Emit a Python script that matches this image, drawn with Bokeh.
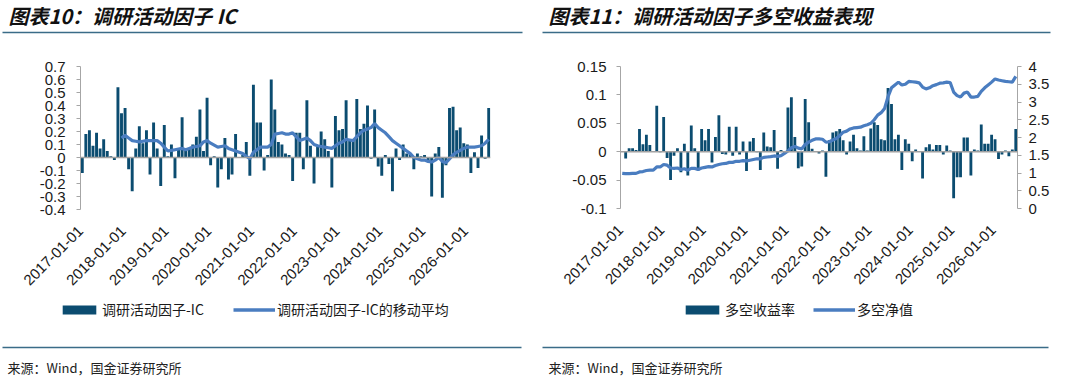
import math
from bokeh.plotting import figure
from bokeh.models import (ColumnDataSource, FixedTicker, LinearAxis, Range1d, Span,
                          Label, Legend, LegendItem)
from bokeh.layouts import row, column
from bokeh.embed import file_html
from bokeh.resources import INLINE

# ---------------- data ----------------
year_ticks = [0, 12, 24, 36, 48, 60, 72, 84, 96, 108]
year_labels = ["2017-01-01", "2018-01-01", "2019-01-01", "2020-01-01", "2021-01-01",
               "2022-01-01", "2023-01-01", "2024-01-01", "2025-01-01", "2026-01-01"]

# monthly IC of the survey-activity factor, 2017-01 .. 2026-07
ic = [-0.12, 0.18, 0.21, 0.09, 0.19, 0.07, 0.14, 0.05, 0.01, -0.02, 0.54, 0.34,
      0.38, -0.09, -0.26, 0.07, 0.24, 0.11, 0.21, -0.13, 0.27, 0.07, -0.22, 0.25,
      0.01, 0.10, -0.16, 0.06, 0.31, 0.05, 0.07, 0.10, 0.16, 0.37, 0.05, 0.46,
      -0.06, 0.01, -0.23, -0.09, 0.15, -0.17, -0.13, 0.18, 0.00, 0.02, 0.12, -0.14,
      0.56, 0.27, 0.27, -0.10, 0.02, 0.60, 0.37, 0.12, 0.10, 0.03, 0.02, -0.18,
      0.19, 0.19, -0.09, 0.44, 0.09, -0.20, 0.08, 0.20, 0.14, 0.05, -0.23, 0.32,
      0.21, 0.22, 0.44, 0.14, 0.13, 0.45, 0.22, 0.26, 0.40, -0.01, 0.37, -0.07,
      -0.14, 0.02, -0.05, -0.26, 0.07, -0.02, 0.10, 0.03, 0.03, -0.09, 0.03, 0.01,
      0.02, -0.03, -0.30, 0.03, 0.08, -0.31, -0.06, 0.38, 0.39, 0.21, 0.23, 0.11,
      0.10, -0.12, 0.04, -0.08, 0.17, -0.01, 0.38]

# moving average of IC, from 2017-12 onwards
ic_ma = [0.15, 0.17, 0.15, 0.13, 0.125, 0.12, 0.125, 0.13, 0.13, 0.13, 0.13, 0.11, 0.08,
         0.05, 0.055, 0.06, 0.065, 0.07, 0.06, 0.07, 0.08, 0.085, 0.09, 0.12, 0.13,
         0.11, 0.095, 0.08, 0.085, 0.09, 0.07, 0.06, 0.05, 0.04, 0.03, 0.01, -0.01,
         0.04, 0.06, 0.08, 0.08, 0.08, 0.10, 0.18, 0.185, 0.19, 0.18, 0.18, 0.19,
         0.16, 0.13, 0.14, 0.15, 0.13, 0.10, 0.09, 0.085, 0.08, 0.075, 0.07, 0.09,
         0.11, 0.12, 0.14, 0.135, 0.13, 0.16, 0.19, 0.21, 0.22, 0.23, 0.26, 0.23,
         0.21, 0.19, 0.16, 0.13, 0.11, 0.09, 0.07, 0.05, 0.03, 0.0, -0.01, -0.02,
         -0.02, -0.03, -0.035, -0.02, 0.0, -0.03, -0.04, -0.01, 0.02, 0.04, 0.055, 0.07,
         0.08, 0.08, 0.08, 0.085, 0.09, 0.11, 0.14]
ma_start = 11

# long-short monthly return
ls_ret = [0.0, -0.012, 0.006, 0.006, 0.003, 0.04, 0.013, 0.03, 0.012, 0.0, 0.081, -0.001,
          0.061, -0.011, -0.05, -0.007, 0.006, -0.036, 0.014, -0.042, 0.046, 0.006, -0.033, 0.04,
          0.02, 0.04, -0.019, 0.026, 0.064, -0.004, -0.005, 0.044, -0.007, 0.044, -0.005, 0.018,
          -0.034, 0.018, 0.024, -0.001, -0.032, 0.034, 0.009, 0.008, 0.038, -0.03, 0.003, -0.004,
          0.078, 0.096, 0.026, -0.029, -0.026, 0.093, 0.052, 0.005, 0.0, -0.003, 0.002, -0.044,
          0.02, 0.034, 0.036, 0.04, 0.02, -0.005, 0.018, 0.03, 0.006, 0.002, 0.027, 0.002,
          0.041, 0.052, 0.047, 0.022, 0.02, 0.112, 0.084, 0.022, 0.03, -0.032, 0.022, 0.014,
          -0.017, 0.004, 0.001, -0.047, 0.008, 0.013, 0.004, 0.012, 0.012, -0.005, 0.011, 0.002,
          -0.082, -0.045, -0.045, 0.025, 0.025, -0.042, 0.004, 0.002, 0.048, 0.014, 0.014, 0.03,
          0.022, -0.013, -0.005, 0.002, -0.008, 0.004, 0.04]

# long-short net value
ls_nav = [0.99, 0.98, 0.985, 0.99, 0.99, 1.03, 1.04, 1.07, 1.08, 1.08, 1.17, 1.17,
          1.24, 1.22, 1.14, 1.13, 1.14, 1.10, 1.12, 1.08, 1.13, 1.13, 1.10, 1.14,
          1.16, 1.18, 1.17, 1.21, 1.24, 1.26, 1.27, 1.30, 1.30, 1.33, 1.33, 1.35,
          1.34, 1.36, 1.38, 1.40, 1.40, 1.44, 1.45, 1.46, 1.48, 1.47, 1.49, 1.55,
          1.62, 1.71, 1.75, 1.70, 1.68, 1.80, 1.87, 1.92, 1.96, 1.96, 1.95, 1.87,
          1.88, 1.93, 1.97, 2.05, 2.15, 2.18, 2.24, 2.27, 2.28, 2.29, 2.33, 2.36,
          2.40, 2.50, 2.63, 2.70, 2.82, 3.15, 3.40, 3.48, 3.56, 3.48, 3.50, 3.58,
          3.57, 3.56, 3.54, 3.42, 3.37, 3.40, 3.46, 3.49, 3.53, 3.54, 3.56, 3.55,
          3.28, 3.18, 3.14, 3.25, 3.28, 3.14, 3.14, 3.16, 3.30, 3.40, 3.48, 3.56,
          3.65, 3.62, 3.60, 3.58, 3.57, 3.56, 3.72]

ic_ticks = [-0.4, -0.3, -0.2, -0.1, 0, 0.1, 0.2, 0.3, 0.4, 0.5, 0.6, 0.7]
ic_tick_labels = ["-0.4", "-0.3", "-0.2", "-0.1", "0", "0.1", "0.2", "0.3", "0.4", "0.5", "0.6", "0.7"]
ret_ticks = [-0.1, -0.05, 0, 0.05, 0.1, 0.15]
ret_tick_labels = ["-0.1", "-0.05", "0", "0.05", "0.1", "0.15"]
nav_ticks = [0, 0.5, 1, 1.5, 2, 2.5, 3, 3.5, 4]
nav_tick_labels = ["0", "0.5", "1", "1.5", "2", "2.5", "3", "3.5", "4"]

title_left = "图表10：调研活动因子 IC"
title_right = "图表11：调研活动因子多空收益表现"
source_text = "来源：Wind，国金证券研究所"
legend_left = ["调研活动因子-IC", "调研活动因子-IC的移动平均"]
legend_right = ["多空收益率", "多空净值"]

# ---------------- style ----------------
BAR = "#0B4C70"
LINE = "#4A7DC0"
AXIS = "#A6A6A6"
RULE = "#3A6C88"
TICK_FONT = "Liberation Sans"
CJK = "Noto Sans CJK SC"
H_HEAD, H_CHART, H_FOOT = 40, 260, 78

n = len(ic)
x_all = [i + 0.5 for i in range(n)]


def no_align(p):
    if "frame_align" in p.properties():
        p.frame_align = False
    return p


def blank_fig(w, h):
    p = figure(width=w, height=h, x_range=Range1d(0, w), y_range=Range1d(h, 0),
               output_backend="svg", toolbar_location=None, title=None,
               min_border=0, min_border_left=0, min_border_right=0,
               min_border_top=0, min_border_bottom=0,
               x_axis_type=None, y_axis_type=None)
    p.xgrid.visible = False
    p.ygrid.visible = False
    p.outline_line_color = None
    return no_align(p)


def header(w, title, tx, r0, r1):
    p = blank_fig(w, H_HEAD)
    p.add_layout(Label(x=tx, y=15, text=title, text_font=CJK, text_font_size="20px",
                       text_font_style="bold italic", text_color="#111111",
                       text_baseline="middle", text_align="left"))
    p.segment(x0=[r0], x1=[r1], y0=[32], y1=[32], line_color=RULE, line_width=1.6)
    return p


def footer(w, names, lx, spacing, sx, r0, r1):
    p = blank_fig(w, H_FOOT)
    # legend swatches styled like the chart's renderers (kept out of view)
    rb = p.quad(left=[-1001], right=[-1000], top=[1], bottom=[0],
                fill_color=BAR, line_color=None)
    rl = p.line(x=[-1001, -1000], y=[0, 0], line_color=LINE, line_width=3.5)
    leg = Legend(items=[LegendItem(label=names[0], renderers=[rb]),
                        LegendItem(label=names[1], renderers=[rl])],
                 orientation="horizontal", location=(lx - 2, H_FOOT - 1 - 18),
                 glyph_width=42, glyph_height=11, label_standoff=2, spacing=spacing,
                 padding=0, margin=0, border_line_color=None, background_fill_alpha=0,
                 label_text_font=CJK, label_text_font_size="14px",
                 label_text_color="#1a1a1a", label_height=18)
    p.add_layout(leg, "center")
    p.segment(x0=[r0], x1=[r1], y0=[47], y1=[47], line_color=RULE, line_width=1.6)
    p.add_layout(Label(x=sx, y=67, text=source_text, text_font=CJK, text_font_size="13px",
                       text_color="#222222", text_baseline="middle", text_align="left"))
    return p


def style_x(p):
    p.xaxis.ticker = FixedTicker(ticks=year_ticks)
    p.xaxis.major_label_overrides = {t: l for t, l in zip(year_ticks, year_labels)}
    p.xaxis.major_label_orientation = math.pi / 4
    p.xaxis.axis_line_color = None
    p.xaxis.major_tick_line_color = None
    p.xaxis.minor_tick_line_color = None
    p.xaxis.major_label_standoff = 13
    p.xaxis.major_label_text_font = TICK_FONT
    p.xaxis.major_label_text_font_size = "15px"
    p.xaxis.major_label_text_color = "#1a1a1a"


def style_y(ax, ticks, labels, standoff):
    ax.ticker = FixedTicker(ticks=ticks)
    ax.major_label_overrides = {t: l for t, l in zip(ticks, labels)}
    ax.axis_line_color = AXIS
    ax.major_tick_line_color = AXIS
    ax.major_tick_out = 4
    ax.major_tick_in = 0
    ax.minor_tick_line_color = None
    ax.major_label_standoff = standoff
    ax.major_label_text_font = TICK_FONT
    ax.major_label_text_font_size = "15px"
    ax.major_label_text_color = "#1a1a1a"


def chart_fig(w, ymin, ymax, fl, fr, ft, fb):
    p = figure(width=w, height=H_CHART, x_range=Range1d(0, n), y_range=Range1d(ymin, ymax),
               output_backend="svg", toolbar_location=None, title=None,
               min_border_left=fl, min_border_right=w - fr,
               min_border_top=ft - H_HEAD, min_border_bottom=H_HEAD + H_CHART - fb)
    p.xgrid.visible = False
    p.ygrid.visible = False
    p.outline_line_color = None
    style_x(p)
    return no_align(p)


# ---------------- left chart ----------------
W1, W2 = 540, 538
p1 = chart_fig(W1, -0.4, 0.7, 80, 490, 66, 209)
style_y(p1.yaxis[0], ic_ticks, ic_tick_labels, 11)
src1 = ColumnDataSource(dict(x=x_all, ic=ic))
p1.vbar(x="x", top="ic", bottom=0, width=0.82, source=src1, fill_color=BAR, line_color=None)
p1.add_layout(Span(location=0, dimension="width", line_color="#A0A0A0", line_width=1.5))
src_ma = ColumnDataSource(dict(x=x_all[ma_start:], ma=ic_ma))
p1.line(x="x", y="ma", source=src_ma, line_color=LINE, line_width=3.2)

h1 = header(W1, title_left, 8, 2, 522)
f1 = footer(W1, legend_left, 60, 29, 7, 2, 521)

# ---------------- right chart ----------------
p2 = chart_fig(W2, -0.1, 0.15, 80, 477, 66, 208)
style_y(p2.yaxis[0], ret_ticks, ret_tick_labels, 10)
p2.extra_y_ranges = {"nav": Range1d(0, 4)}
ax_r = LinearAxis(y_range_name="nav")
style_y(ax_r, nav_ticks, nav_tick_labels, 7)
p2.add_layout(ax_r, "right")
src2 = ColumnDataSource(dict(x=x_all, ret=ls_ret, nav=ls_nav))
p2.vbar(x="x", top="ret", bottom=0, width=0.82, source=src2, fill_color=BAR, line_color=None)
p2.add_layout(Span(location=0, dimension="width", line_color="#A0A0A0", line_width=1.5))
p2.line(x="x", y="nav", source=src2, y_range_name="nav", line_color=LINE, line_width=3.2)

h2 = header(W2, title_right, 8, 2, 510)
f2 = footer(W2, legend_right, 143, 18, 8, 2, 508)

layout = row(column(h1, p1, f1), column(h2, p2, f2))
open("out.html", "w").write(file_html(layout, INLINE))
